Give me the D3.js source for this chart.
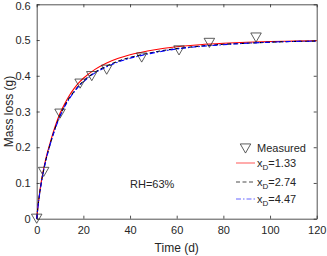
<!DOCTYPE html>
<html>
<head>
<meta charset="utf-8">
<script src="https://cdn.jsdelivr.net/npm/d3@7/dist/d3.min.js"></script>
<style>
  body { margin: 0; background: #fff; }
  text { font-family: "Liberation Sans", Arial, sans-serif; fill: #262626; }
</style>
</head>
<body>
<div id="chart"></div>
<script>
// measured points
const measT = [0, 3, 10, 18.6, 23.6, 30, 45, 61, 74, 94];
const measY = [0, 0.131, 0.294, 0.378, 0.399, 0.417, 0.451, 0.471, 0.492, 0.507];

// model curves
const modelT = [0, 1, 2, 3, 4, 5, 6, 8, 10, 12, 14, 16, 18, 20, 25, 30, 35, 40, 45, 50, 60, 70, 80, 90, 100, 110, 120];
const red133 = [0, 0.06, 0.105, 0.14, 0.17, 0.195, 0.218, 0.26, 0.295, 0.322, 0.345, 0.364, 0.38, 0.393, 0.418, 0.436, 0.449, 0.459, 0.466, 0.472, 0.481, 0.487, 0.491, 0.494, 0.496, 0.497, 0.498];
const black274 = [0, 0.058, 0.102, 0.137, 0.166, 0.191, 0.214, 0.255, 0.289, 0.316, 0.338, 0.356, 0.372, 0.385, 0.41, 0.427, 0.441, 0.451, 0.459, 0.466, 0.476, 0.483, 0.488, 0.491, 0.494, 0.496, 0.497];
const blue447 = [0, 0.057, 0.101, 0.136, 0.165, 0.19, 0.213, 0.253, 0.287, 0.314, 0.336, 0.354, 0.37, 0.383, 0.408, 0.425, 0.439, 0.449, 0.457, 0.464, 0.475, 0.482, 0.487, 0.491, 0.494, 0.496, 0.497];

const xTicks = [0, 20, 40, 60, 80, 100, 120];
const yTicks = [0, 0.1, 0.2, 0.3, 0.4, 0.5, 0.6];

const series = [
  {name: "1.33", vals: red133, color: "#ff0000", dash: null},
  {name: "2.74", vals: black274, color: "#000000", dash: "4,2.5"},
  {name: "4.47", vals: blue447, color: "#0000ff", dash: "5,2,1.5,2"}
];

let width = 327, height = 256;
let mLeft = 36.7, mRight = 316.7, mTop = 4.3, mBottom = 218.7;

let svg = d3.select("#chart").append("svg")
    .attr("width", width)
    .attr("height", height);

let x = d3.scaleLinear().domain([0, 120]).range([mLeft, mRight]);
let y = d3.scaleLinear().domain([0, 0.6]).range([mBottom, mTop]);

let axisCol = "#262626";

// axes with inward ticks on all four sides
let gx = svg.append("g").attr("transform", "translate(0," + mBottom + ")")
    .call(d3.axisBottom(x).tickValues(xTicks).tickSizeInner(-3).tickSizeOuter(0).tickPadding(8));
let gxTop = svg.append("g").attr("transform", "translate(0," + mTop + ")")
    .call(d3.axisTop(x).tickValues(xTicks).tickSizeInner(-3).tickSizeOuter(0).tickFormat(""));
let gy = svg.append("g").attr("transform", "translate(" + mLeft + ",0)")
    .call(d3.axisLeft(y).tickValues(yTicks).tickSizeInner(-3).tickSizeOuter(0).tickPadding(6)
        .tickFormat(d => d === 0 ? "0" : d3.format(".1f")(d)));
let gyR = svg.append("g").attr("transform", "translate(" + mRight + ",0)")
    .call(d3.axisRight(y).tickValues(yTicks).tickSizeInner(-3).tickSizeOuter(0).tickFormat(""));

[gx, gxTop, gy, gyR].forEach(g => {
  g.select(".domain").attr("stroke", axisCol).attr("stroke-width", 0.8);
  g.selectAll(".tick line").attr("stroke", axisCol).attr("stroke-width", 0.8);
  g.selectAll(".tick text").style("font-size", "11px").attr("fill", axisCol);
});
// keep the top label inside the picture
gy.selectAll(".tick text").filter(d => d === 0.6).attr("dy", "0.5em");

// model lines
let line = d3.line()
    .x((d, i) => x(modelT[i]))
    .y(d => y(d))
    .curve(d3.curveMonotoneX);

series.forEach(s => {
  svg.append("path")
      .datum(s.vals)
      .attr("d", line)
      .attr("fill", "none")
      .attr("stroke", s.color)
      .attr("stroke-width", 1.1)
      .attr("stroke-dasharray", s.dash);
});

// measured markers (downward triangles)
const tri = (cx, cy, s) => {
  let h = s * 0.87;
  return "M" + (cx - s / 2) + "," + (cy - h / 2) + "L" + (cx + s / 2) + "," + (cy - h / 2) +
      "L" + cx + "," + (cy + h / 2) + "Z";
};

svg.selectAll(".meas")
    .data(measT)
    .enter().append("path")
    .attr("class", "meas")
    .attr("d", (d, i) => tri(x(d), y(measY[i]), 10.5))
    .attr("fill", "none")
    .attr("stroke", "#333")
    .attr("stroke-width", 0.8);

// labels
svg.append("text")
    .attr("x", (mLeft + mRight) / 2)
    .attr("y", 252)
    .attr("text-anchor", "middle")
    .style("font-size", "12px")
    .text("Time (d)");

svg.append("text")
    .attr("transform", "translate(13," + (mTop + mBottom) / 2 + ") rotate(-90)")
    .attr("text-anchor", "middle")
    .style("font-size", "12px")
    .text("Mass loss (g)");

svg.append("text")
    .attr("x", 130)
    .attr("y", 187.5)
    .style("font-size", "11px")
    .text("RH=63%");

// legend
let legX1 = 236, legX2 = 255, legTx = 257;
svg.append("path")
    .attr("d", tri(245.5, 148.5, 10.5))
    .attr("fill", "none")
    .attr("stroke", "#333")
    .attr("stroke-width", 0.8);
svg.append("text")
    .attr("x", legTx).attr("y", 152)
    .style("font-size", "11px")
    .text("Measured");

let legY = [163, 182, 199];
series.forEach((s, i) => {
  svg.append("line")
      .attr("x1", legX1).attr("x2", legX2)
      .attr("y1", legY[i]).attr("y2", legY[i])
      .attr("stroke", s.color)
      .attr("stroke-opacity", s.color === "#000000" ? 0.7 : 0.6)
      .attr("stroke-width", 1.1)
      .attr("stroke-dasharray", s.dash);
  let t = svg.append("text")
      .attr("x", legTx).attr("y", legY[i] + 3.5)
      .style("font-size", "11px");
  t.append("tspan").text("x");
  t.append("tspan").attr("dy", 3).style("font-size", "8px").text("D");
  t.append("tspan").attr("dy", -3).text("=" + s.name);
});
</script>
</body>
</html>
